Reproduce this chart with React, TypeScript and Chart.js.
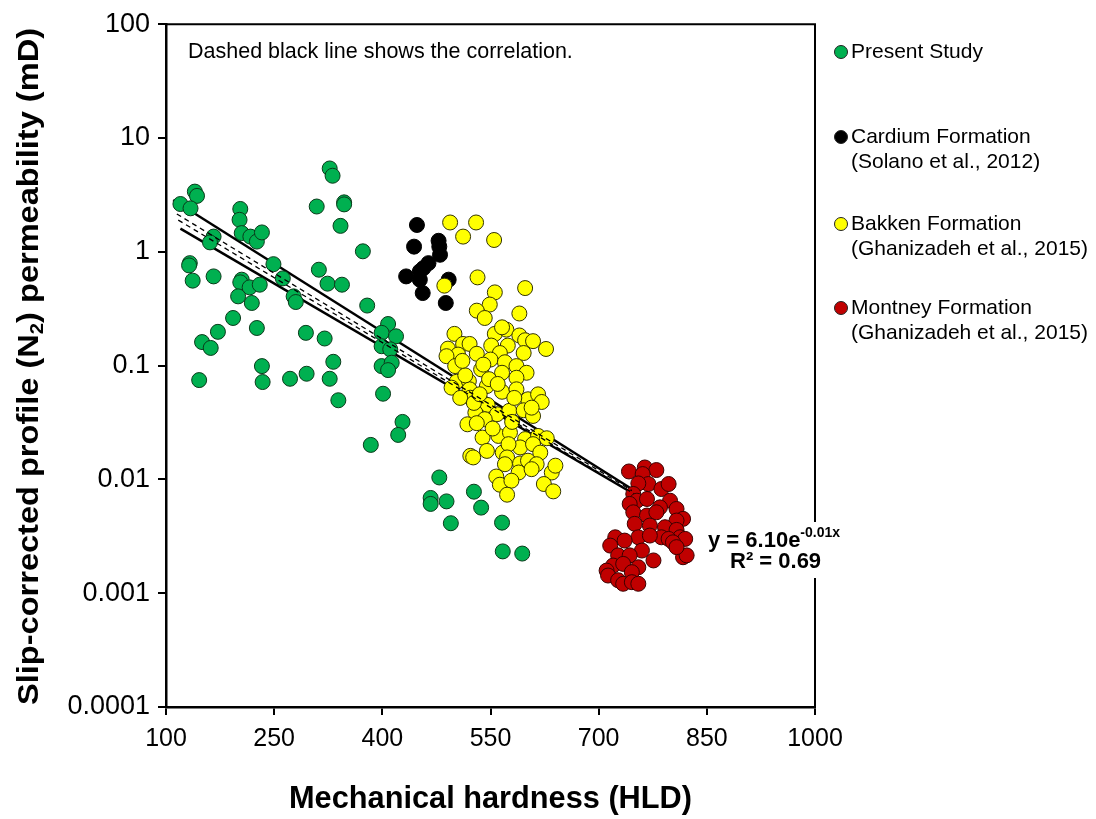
import React, { useEffect, useRef } from 'react';
import { Chart, registerables } from 'chart.js';

Chart.register(...registerables);

const FONT = "'Liberation Sans', Arial, Helvetica, sans-serif";

// ---- data (x: mechanical hardness HLD, y: permeability mD) ----
const presentX = [327, 331, 140, 143, 120, 134, 203, 309, 347, 347, 202, 342, 205, 217, 226, 233, 166, 161, 373, 133, 132, 137, 166, 249, 262, 312, 324, 344, 205, 203, 216, 230, 200, 219, 277, 280, 379, 408, 399, 419, 399, 411, 193, 226, 172, 150, 162, 294, 320, 233, 234, 332, 399, 413, 408, 146, 272, 295, 327, 339, 401, 428, 422, 384, 479, 467, 467, 489, 495, 527, 537, 566, 567, 594];
const presentY = [5.40, 4.66, 3.38, 3.10, 2.63, 2.41, 2.38, 2.50, 2.72, 2.61, 1.91, 1.69, 1.46, 1.36, 1.23, 1.48, 1.36, 1.21, 1.01, 0.795, 0.759, 0.558, 0.608, 0.779, 0.584, 0.696, 0.525, 0.514, 0.569, 0.539, 0.487, 0.514, 0.406, 0.355, 0.406, 0.362, 0.337, 0.232, 0.194, 0.181, 0.148, 0.139, 0.262, 0.214, 0.198, 0.161, 0.143, 0.194, 0.173, 0.099, 0.0717, 0.108, 0.099, 0.106, 0.0913, 0.0746, 0.0766, 0.0848, 0.0766, 0.0496, 0.0566, 0.0320, 0.0246, 0.0201, 0.0104, 0.00687, 0.00609, 0.00641, 0.00412, 0.0078, 0.00565, 0.00417, 0.00233, 0.00223];

const cardiumX = [448, 444, 478, 479, 480, 464, 457, 452, 433, 452, 492, 456, 488];
const cardiumY = [1.72, 1.11, 1.25, 1.11, 0.942, 0.795, 0.719, 0.673, 0.608, 0.569, 0.569, 0.434, 0.355];

const bakkenX = [494, 530, 512, 555, 532, 486, 598, 556, 549, 531, 542, 590, 500, 491, 512, 521, 505, 531, 556, 572, 566, 590, 598, 609, 627, 551, 574, 563, 596, 489, 501, 550, 570, 586, 537, 566, 600, 586, 503, 520, 545, 521, 522, 566, 586, 602, 616, 621, 546, 559, 529, 542, 576, 596, 609, 607, 518, 531, 539, 561, 577, 598, 616, 628, 591, 609, 619, 545, 567, 575, 522, 526, 573, 570, 591, 602, 614, 589, 607, 635, 640, 558, 563, 579, 573, 624, 637, 496, 508, 515, 527, 535, 548, 560, 580, 583, 553, 540, 511];
const bakkenY = [1.81, 1.81, 1.36, 1.27, 0.596, 0.504, 0.480, 0.440, 0.344, 0.304, 0.262, 0.287, 0.190, 0.141, 0.155, 0.155, 0.125, 0.127, 0.190, 0.207, 0.217, 0.184, 0.167, 0.164, 0.140, 0.150, 0.150, 0.129, 0.129, 0.121, 0.099, 0.113, 0.107, 0.099, 0.0927, 0.0865, 0.0865, 0.0782, 0.0721, 0.0731, 0.0661, 0.0619, 0.0522, 0.0589, 0.0619, 0.0506, 0.0559, 0.0479, 0.0451, 0.0374, 0.0386, 0.0338, 0.0400, 0.0405, 0.0361, 0.0427, 0.0305, 0.0312, 0.0233, 0.0241, 0.0258, 0.0226, 0.0241, 0.0230, 0.0191, 0.0204, 0.0172, 0.0178, 0.0172, 0.0204, 0.0161, 0.0156, 0.0156, 0.0136, 0.0138, 0.0146, 0.0136, 0.0115, 0.0123, 0.0115, 0.0132, 0.0106, 0.00898, 0.00974, 0.00734, 0.00911, 0.00785, 0.0640, 0.0520, 0.0820, 0.0470, 0.0560, 0.0760, 0.0690, 0.0320, 0.0520, 0.0280, 0.1020, 0.1100];

const montneyX = [742, 764, 780, 761, 769, 787, 797, 755, 748, 753, 743, 767, 799, 785, 808, 748, 767, 780, 817, 808, 750, 771, 792, 808, 813, 820, 787, 797, 803, 755, 771, 723, 736, 716, 727, 720, 760, 743, 776, 817, 822, 808, 734, 755, 746, 711, 713, 727, 734, 746, 755];
const montneyY = [0.01174, 0.01273, 0.01208, 0.01114, 0.00911, 0.00823, 0.00911, 0.00922, 0.00745, 0.0065, 0.00609, 0.00673, 0.0065, 0.00568, 0.0055, 0.00514, 0.00481, 0.00514, 0.0045, 0.00435, 0.00407, 0.00393, 0.0038, 0.0036, 0.0031, 0.003, 0.0031, 0.003, 0.0028, 0.0031, 0.00321, 0.0031, 0.0029, 0.00262, 0.00215, 0.00175, 0.00237, 0.00215, 0.00194, 0.00207, 0.00215, 0.00254, 0.00181, 0.00169, 0.00153, 0.00158, 0.00143, 0.0013, 0.00121, 0.00125, 0.00121];

// trend / bound lines (end points)
const upperX = [110, 746];
const upperY = [2.85, 0.00823];
const lowerX = [120, 746];
const lowerY = [1.60, 0.00764];
const fitX = [115, 746];
const fitY = [2.15, 0.00796];
const fit2X = [117, 749];
const fit2Y = [1.90, 0.00749];

const xTicks = [100, 250, 400, 550, 700, 850, 1000];
const xTickLabels = ['100', '250', '400', '550', '700', '850', '1000'];
const yTicks = [0.0001, 0.001, 0.01, 0.1, 1, 10, 100];
const yTickLabels = ['0.0001', '0.001', '0.01', '0.1', '1', '10', '100'];

const seriesNames = [
  ['Present Study'],
  ['Cardium Formation', '(Solano et al., 2012)'],
  ['Bakken Formation', '(Ghanizadeh et al., 2015)'],
  ['Montney Formation', '(Ghanizadeh et al., 2015)'],
];
const seriesColors = ['#00B050', '#000000', '#FFFF00', '#C00000'];

const noteText = 'Dashed black line shows the correlation.';
const eqMain = 'y = 6.10e';
const eqExp = '-0.01x';
const r2Text = 'R\u00B2 = 0.69';
const xTitle = 'Mechanical hardness (HLD)';

const toPts = (xs: number[], ys: number[]) => xs.map((x, i) => ({ x, y: ys[i] }));

const decorPlugin = {
  id: 'decor',
  afterDraw(chart: any) {
    const ctx = chart.ctx as CanvasRenderingContext2D;
    const a = chart.chartArea;
    ctx.save();
    // frame top + right
    ctx.strokeStyle = '#000';
    ctx.lineWidth = 2;
    ctx.beginPath();
    ctx.moveTo(a.left, a.top);
    ctx.lineTo(a.right, a.top);
    ctx.lineTo(a.right, a.bottom);
    ctx.stroke();

    // note
    ctx.fillStyle = '#000';
    ctx.textAlign = 'left';
    ctx.textBaseline = 'middle';
    ctx.font = `21.5px ${FONT}`;
    ctx.fillText(noteText, 188, 52);

    // equation box
    ctx.fillStyle = '#fff';
    ctx.fillRect(702, 522, 142, 56);
    ctx.fillStyle = '#000';
    ctx.font = `bold 22px ${FONT}`;
    const wMain = ctx.measureText(eqMain).width;
    ctx.fillText(eqMain, 708, 541);
    ctx.font = `bold 14px ${FONT}`;
    ctx.fillText(eqExp, 708 + wMain, 533);
    ctx.font = `bold 22px ${FONT}`;
    ctx.fillText(r2Text, 730, 562);

    // legend
    const rows = [[52], [137, 162], [224, 249], [308, 333]];
    seriesNames.forEach((lines, i) => {
      const y0 = rows[i][0];
      ctx.beginPath();
      ctx.arc(841, y0, 6.5, 0, Math.PI * 2);
      ctx.fillStyle = seriesColors[i];
      ctx.fill();
      ctx.lineWidth = 1;
      ctx.strokeStyle = '#222';
      ctx.stroke();
      ctx.fillStyle = '#000';
      ctx.font = `21px ${FONT}`;
      lines.forEach((t, j) => ctx.fillText(t, 851, rows[i][j]));
    });

    // x title (stretched to the reference width)
    ctx.save();
    ctx.font = `bold 31px ${FONT}`;
    ctx.textAlign = 'center';
    const wx = ctx.measureText(xTitle).width;
    ctx.translate((a.left + a.right) / 2, 799);
    ctx.scale(403 / wx, 1);
    ctx.fillText(xTitle, 0, 0);
    ctx.restore();

    // y title with subscript
    ctx.save();
    ctx.translate(30, 366.5);
    ctx.rotate(-Math.PI / 2);
    ctx.textAlign = 'left';
    const p1 = 'Slip-corrected profile (N';
    const p2 = ') permeability (mD)';
    ctx.font = `bold 29px ${FONT}`;
    const w1 = ctx.measureText(p1).width;
    const w3 = ctx.measureText(p2).width;
    ctx.font = `bold 18px ${FONT}`;
    const w2 = ctx.measureText('2').width;
    const total = w1 + w2 + w3;
    ctx.scale(677 / total, 1);
    const x0 = -total / 2;
    ctx.font = `bold 29px ${FONT}`;
    ctx.fillText(p1, x0, 0);
    ctx.font = `bold 18px ${FONT}`;
    ctx.fillText('2', x0 + w1, 8);
    ctx.font = `bold 29px ${FONT}`;
    ctx.fillText(p2, x0 + w1 + w2, 0);
    ctx.restore();

    ctx.restore();
  },
};

export default function App() {
  const ref = useRef<HTMLCanvasElement | null>(null);
  useEffect(() => {
    if (!ref.current) return;
    const scatter = (label: string, xs: number[], ys: number[], color: string, order: number, border: string) => ({
      type: 'scatter' as const,
      label,
      data: toPts(xs, ys),
      backgroundColor: color,
      borderColor: border,
      borderWidth: 1,
      pointRadius: 7.5,
      pointHoverRadius: 7.5,
      order,
    });
    const line = (xs: number[], ys: number[], dash: number[], width: number, order: number) => ({
      type: 'line' as const,
      label: '',
      data: toPts(xs, ys),
      borderColor: '#000',
      borderWidth: width,
      borderDash: dash,
      pointRadius: 0,
      showLine: true,
      fill: false,
      order,
    });
    const chart = new Chart(ref.current, {
      type: 'scatter',
      data: {
        datasets: [
          line(fitX, fitY, [5, 4], 1.3, 0) as any,
          line(fit2X, fit2Y, [5, 4], 1.3, 0) as any,
          scatter(seriesNames[3][0], montneyX, montneyY, seriesColors[3], 1, '#3a0000'),
          scatter(seriesNames[2][0], bakkenX, bakkenY, seriesColors[2], 2, '#333300'),
          scatter(seriesNames[1][0], cardiumX, cardiumY, seriesColors[1], 3, '#000'),
          scatter(seriesNames[0][0], presentX, presentY, seriesColors[0], 4, '#0a3a1a'),
          line(upperX, upperY, [], 2.5, 5) as any,
          line(lowerX, lowerY, [], 2.5, 5) as any,
        ],
      },
      options: {
        animation: false,
        responsive: true,
        maintainAspectRatio: false,
        layout: { padding: { top: 22, right: 281, left: 0, bottom: 0 } },
        plugins: { legend: { display: false }, tooltip: { enabled: false }, title: { display: false } },
        scales: {
          x: {
            type: 'linear',
            min: xTicks[0],
            max: xTicks[xTicks.length - 1],
            afterBuildTicks: (s: any) => { s.ticks = xTicks.map((v) => ({ value: v })); },
            afterFit: (s: any) => { s.height = 112; },
            ticks: {
              font: { family: FONT, size: 25 },
              color: '#000',
              padding: 9,
              maxRotation: 0,
              callback: (v: any) => { const i = xTicks.indexOf(Number(v)); return i >= 0 ? xTickLabels[i] : ''; },
            },
            grid: { display: true, drawOnChartArea: false, drawTicks: true, tickLength: 8, color: '#000', lineWidth: 2 },
            border: { display: true, color: '#000', width: 2.5 },
          },
          y: {
            type: 'logarithmic',
            min: yTicks[0],
            max: yTicks[yTicks.length - 1],
            afterBuildTicks: (s: any) => { s.ticks = yTicks.map((v) => ({ value: v })); },
            afterFit: (s: any) => { s.width = 166; },
            ticks: {
              font: { family: FONT, size: 27 },
              color: '#000',
              padding: 8,
              callback: (v: any) => { const i = yTicks.indexOf(Number(v)); return i >= 0 ? yTickLabels[i] : ''; },
            },
            grid: { display: true, drawOnChartArea: false, drawTicks: true, tickLength: 8, color: '#000', lineWidth: 2 },
            border: { display: true, color: '#000', width: 2.5 },
          },
        },
      },
      plugins: [decorPlugin],
    } as any);
    return () => chart.destroy();
  }, []);
  return (
    <div style={{ position: 'absolute', left: 0, top: 0, width: 1096, height: 819, background: '#fff' }}>
      <canvas ref={ref} />
    </div>
  );
}
